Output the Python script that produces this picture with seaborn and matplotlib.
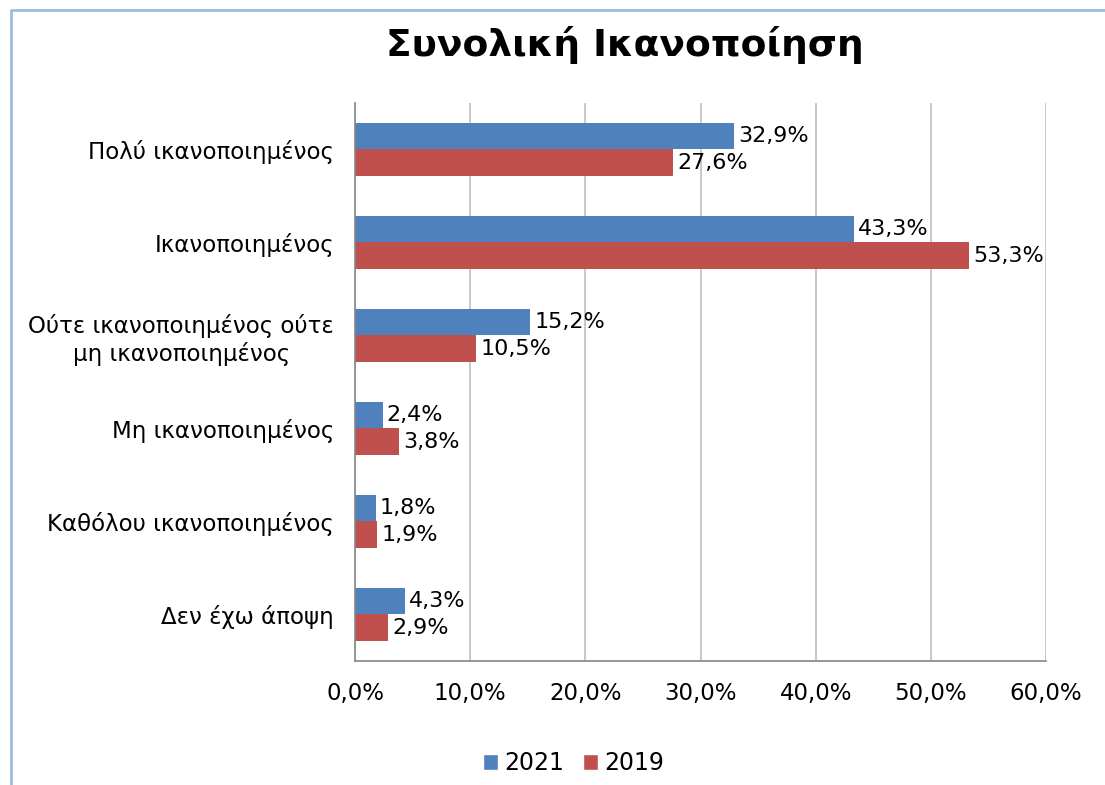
import numpy as np
import pandas as pd
import matplotlib
matplotlib.use("Agg")
import matplotlib.pyplot as plt
import seaborn as sns
from matplotlib.patches import Patch
from matplotlib.lines import Line2D

categories = ['Πολύ ικανοποιημένος', 'Ικανοποιημένος',
              'Ούτε ικανοποιημένος ούτε\nμη ικανοποιημένος',
              'Μη ικανοποιημένος', 'Καθόλου ικανοποιημένος', 'Δεν έχω άποψη']
vals_2021 = [32.9, 43.3, 15.2, 2.4, 1.8, 4.3]
vals_2019 = [27.6, 53.3, 10.5, 3.8, 1.9, 2.9]
years = ['2021', '2019']
colors = ['#4F81BD', '#C0504D']
xticks = [0, 10, 20, 30, 40, 50, 60]

df = pd.DataFrame({
    'cat': categories * 2,
    'val': vals_2021 + vals_2019,
    'year': ['2021'] * len(categories) + ['2019'] * len(categories),
})

sns.set_style("white")
plt.rcParams['font.family'] = ['DejaVu Sans']
plt.rcParams['text.color'] = 'black'
plt.rcParams['xtick.color'] = 'black'
plt.rcParams['ytick.color'] = 'black'

fig = plt.figure(figsize=(11.05, 7.85), dpi=100)
ax = fig.add_axes([0.3213, 0.158, 0.6253, 0.7108])

sns.barplot(data=df, y='cat', x='val', hue='year', hue_order=years,
            palette=colors, orient='h', width=0.57, ax=ax, legend=False,
            saturation=1, linewidth=0)

for cont, vals in zip(ax.containers, [vals_2021, vals_2019]):
    ax.bar_label(cont, labels=[f"{v:.1f}%".replace('.', ',') for v in vals],
                 padding=3, fontsize=16)

ax.set_xlim(0, 60)
ax.set_xticks(xticks)
ax.set_xticklabels([f"{t:.1f}%".replace('.', ',') for t in xticks], fontsize=16.5)
ax.tick_params(axis='y', labelsize=16.5, length=0, pad=15)
ax.tick_params(axis='x', length=0, pad=15)
for lbl in ax.get_yticklabels():
    lbl.set_multialignment('center')
ax.set_xlabel('')
ax.set_ylabel('')
ax.xaxis.grid(True, color='#BFBFBF', lw=1.2)
ax.set_axisbelow(True)
for s in ['top', 'right']:
    ax.spines[s].set_visible(False)
for s in ['left', 'bottom']:
    ax.spines[s].set_color('#868686')
    ax.spines[s].set_linewidth(1.2)

fig.text(0.5656, 0.943, 'Συνολική Ικανοποίηση', ha='center', va='center',
         fontsize=27, fontweight='bold')

handles = [Patch(facecolor=c, label=y) for c, y in zip(colors, years)]
fig.legend(handles=handles, loc='center', bbox_to_anchor=(0.519, 0.028),
           ncol=2, frameon=False, fontsize=17, handlelength=0.65,
           handleheight=0.65, handletextpad=0.25, columnspacing=0.8)

# chart border
fig.add_artist(Line2D([0.01, 0.01, 1.0], [0.0, 0.987, 0.987],
                      color='#9DBBE3', lw=2, transform=fig.transFigure))

fig.savefig('out.png', dpi=100)
